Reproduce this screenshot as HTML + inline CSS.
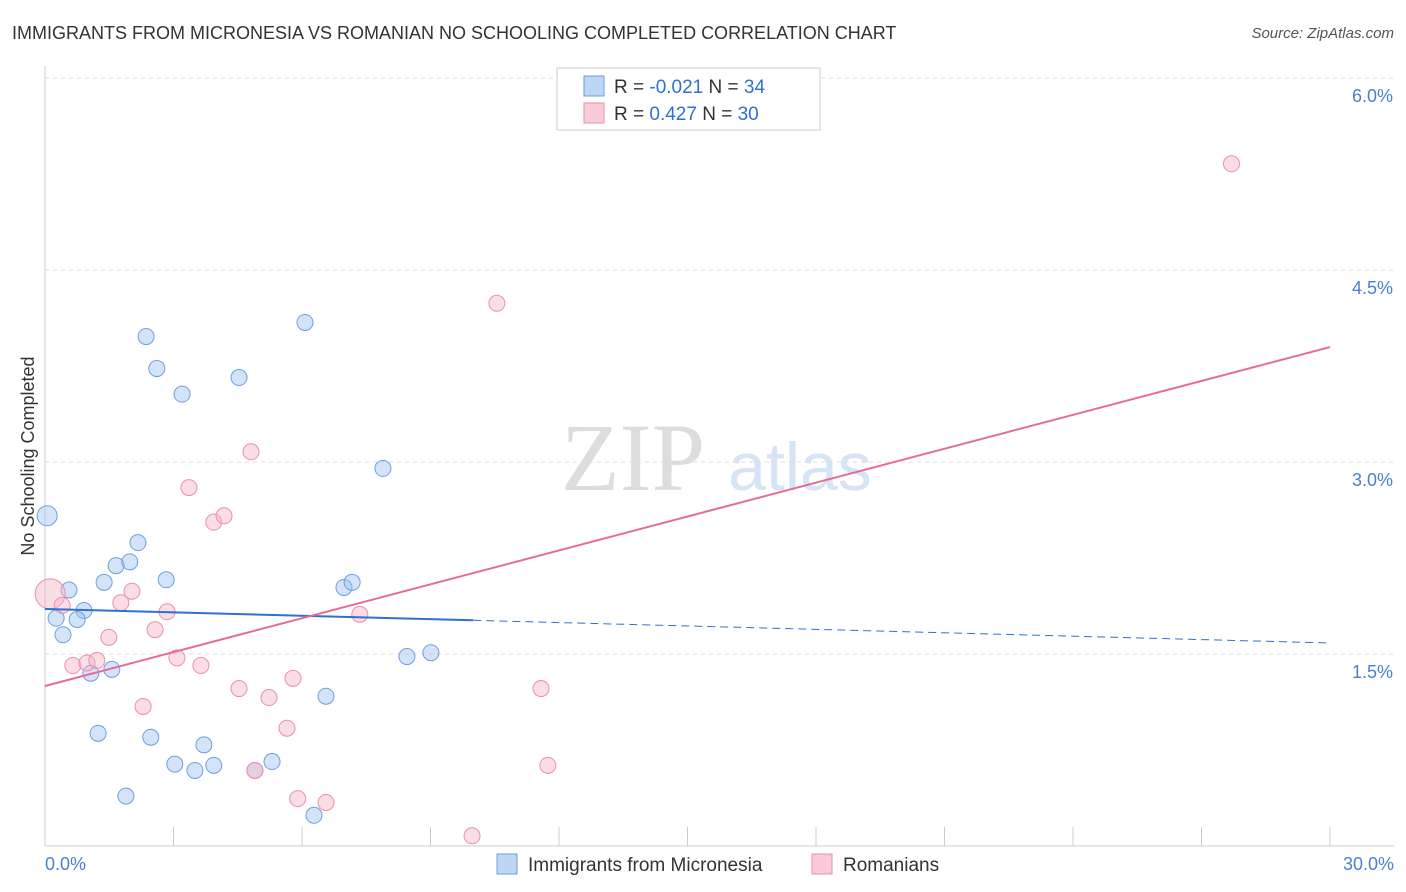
<!DOCTYPE html>
<html><head><meta charset="utf-8"><style>
body{margin:0;background:#fff;font-family:"Liberation Sans",sans-serif;}
#wrap{position:relative;width:1406px;height:892px;}
.t{position:absolute;white-space:nowrap;}
</style></head><body>
<div id="wrap">
<div class="t" style="left:12px;top:23px;font-size:18px;color:#333;">IMMIGRANTS FROM MICRONESIA VS ROMANIAN NO SCHOOLING COMPLETED CORRELATION CHART</div>
<div class="t" style="right:12px;top:25px;font-size:15px;color:#555;font-style:italic;">Source: ZipAtlas.com</div>
<svg id="svg" width="1406" height="892" style="position:absolute;left:0;top:0"></svg>
</div>
<script>
const xTicks=[0,3,6,9,12,15,18,21,24,27,30];
const yTicks=[1.5,3.0,4.5,6.0];
const blueX=[0.05,0.56,0.26,0.91,0.42,0.75,1.07,1.56,1.38,1.66,1.98,2.17,2.83,2.36,2.61,3.2,4.53,6.07,7.89,6.98,7.17,6.56,8.45,9.01,1.24,2.47,3.03,3.5,3.71,3.94,4.9,5.3,1.89,6.28];
const blueY=[2.58,2.0,1.78,1.84,1.65,1.77,1.35,1.38,2.06,2.19,2.22,2.37,2.08,3.98,3.73,3.53,3.66,4.09,2.95,2.02,2.06,1.17,1.48,1.51,0.88,0.85,0.64,0.59,0.79,0.63,0.59,0.66,0.39,0.24];
const pinkX=[0.12,0.4,0.65,0.98,1.21,1.49,1.77,2.03,2.57,2.85,2.29,3.08,3.36,3.64,3.94,4.18,4.81,4.53,5.23,5.79,5.65,4.9,5.9,6.56,7.35,10.55,11.58,11.74,9.97,27.7];
const pinkY=[1.97,1.88,1.41,1.43,1.45,1.63,1.9,1.99,1.69,1.83,1.09,1.47,2.8,1.41,2.53,2.58,3.08,1.23,1.16,1.31,0.92,0.59,0.37,0.34,1.81,4.24,1.23,0.63,0.08,5.33];
const blueLine=[1.852,1.586], pinkLine=[1.25,3.898];
const NS="http://www.w3.org/2000/svg",svg=document.getElementById('svg');
const X=v=>45+v/30*1285, Y=v=>846-v*128;
function mk(t,a,p){const e=document.createElementNS(NS,t);for(const k in a)e.setAttribute(k,a[k]);(p||svg).appendChild(e);return e;}
let wm=mk('text',{x:633,y:490,'font-size':96,'font-family':'Liberation Serif','fill':'#ddd','text-anchor':'middle'});wm.textContent='ZIP';

let wm2=mk('text',{x:800,y:490,'font-size':68,'font-family':'Liberation Sans','fill':'#d6e4f5','text-anchor':'middle'});wm2.textContent='atlas';

yTicks.forEach(v=>{const l=mk('line',{x1:45,x2:1394,y1:Y(v),y2:Y(v),stroke:'#ddd','stroke-dasharray':'4,4'});

const t=mk('text',{x:1393,y:Y(v)+24,'font-size':18,fill:'#4a7fd4','text-anchor':'end'});t.textContent=v.toFixed(1)+'%';
});
const ya=mk('line',{x1:45,x2:45,y1:66,y2:846,stroke:'#ccc'});
const xa=mk('line',{x1:45,x2:1394,y1:846,y2:846,stroke:'#ccc'});
xTicks.forEach(v=>{const l=mk('line',{x1:X(v),x2:X(v),y1:827,y2:846,stroke:'#ccc'});});
[[0,'0.0%','start',45],[30,'30.0%','end',1394]].forEach(a=>{const t=mk('text',{x:a[3],y:870,'font-size':18,fill:'#4a7fd4','text-anchor':a[2]});t.textContent=a[1];
});
const yt=mk('text',{x:34,y:456,'font-size':18,fill:'#333','text-anchor':'middle',transform:'rotate(-90 34 456)'});yt.textContent='No Schooling Completed';

blueX.forEach((v,i)=>{const c=mk('circle',{cx:X(v),cy:Y(blueY[i]),r:i==0?10:8,fill:'rgba(160,196,240,0.45)',stroke:'#6d9fe0','stroke-width':1});
});
pinkX.forEach((v,i)=>{const c=mk('circle',{cx:X(v),cy:Y(pinkY[i]),r:i==0?15:8,fill:'rgba(246,180,200,0.45)',stroke:'#eb8fae','stroke-width':1});
});
const by=x=>blueLine[0]+(blueLine[1]-blueLine[0])*x/30;
const b1=mk('line',{x1:X(0),y1:Y(by(0)),x2:X(10),y2:Y(by(10)),stroke:'#2f6fd6','stroke-width':2});

const b2=mk('line',{x1:X(10),y1:Y(by(10)),x2:X(30),y2:Y(by(30)),stroke:'#2f6fd6','stroke-width':1,'stroke-dasharray':'8,5'});

const p1=mk('line',{x1:X(0),y1:Y(pinkLine[0]),x2:X(30),y2:Y(pinkLine[1]),stroke:'#e66a95','stroke-width':2});

// stats legend
const lg=mk('g',{});
mk('rect',{x:557,y:68,width:263,height:62,fill:'#fff',stroke:'#ccc'},lg);
[[86,'rgba(160,196,240,0.7)','#6d9fe0','-0.021','34'],[113,'rgba(246,180,200,0.7)','#eb8fae',' 0.427','30']].forEach(r=>{
mk('rect',{x:584,y:r[0]-10,width:20,height:20,fill:r[1],stroke:r[2]},lg);
const t=mk('text',{x:614,y:r[0]+7,'font-size':19,fill:'#333','xml:space':'preserve'},lg);
t.innerHTML='R = <tspan fill="#2f6fd6">'+r[3]+'</tspan>   N = <tspan fill="#2f6fd6">'+r[4]+'</tspan>';});
// bottom legend
[[497,'rgba(160,196,240,0.7)','#6d9fe0','Immigrants from Micronesia','legend-micronesia'],[812,'rgba(246,180,200,0.7)','#eb8fae','Romanians','legend-romanians']].forEach(r=>{
const g=mk('g',{});
mk('rect',{x:r[0],y:854,width:20,height:20,fill:r[1],stroke:r[2]},g);
const t=mk('text',{x:r[0]+31,y:871,'font-size':19,fill:'#333'},g);t.textContent=r[3];});
</script></body></html>
